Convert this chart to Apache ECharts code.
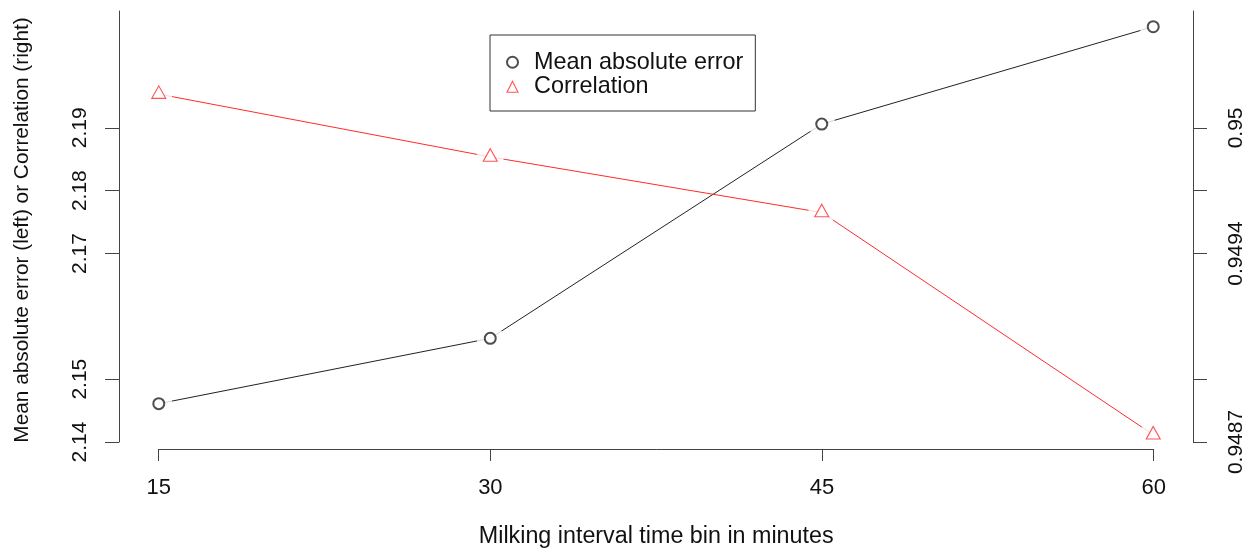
<!DOCTYPE html>
<html>
<head>
<meta charset="utf-8">
<script src="https://cdn.jsdelivr.net/npm/echarts@6/dist/echarts.min.js"></script>
<style>
  html, body { margin: 0; padding: 0; background: #fff; }
  #chart { width: 1255px; height: 553px; }
</style>
</head>
<body>
<div id="chart"></div>
<script>
// Milking interval bins (minutes)
const intervals = [15, 30, 45, 60];
// Mean absolute error per bin (left axis)
const maeValues = [2.1461, 2.1565, 2.1906, 2.2061];
// Correlation per bin (right axis)
const corrValues = [0.95010, 0.94984, 0.94961, 0.94869];

// Axis ticks
const xTicks = [15, 30, 45, 60];
const leftTicks = [2.14, 2.15, 2.17, 2.18, 2.19];
const rightTicks = [0.94866, 0.94892, 0.94944, 0.94970, 0.94996];
const rightLabelTicks = [0.94866, 0.94944, 0.94996];

// Axis ranges
const xRange = [13.2, 61.8];
const leftRange = [2.14, 2.2086];
const rightRange = [0.94866, 0.950444];

const FONT = '"Liberation Sans", Arial, Helvetica, sans-serif';
const INK = '#111';
const AXIS = '#444';
const DARK = '#222';
const RED = '#ff2b2b';

const maePts = intervals.map((x, i) => [x, maeValues[i]]);
const corrPts = intervals.map((x, i) => [x, corrValues[i]]);

function fmtRight(v) {
  return String(parseFloat(v.toFixed(4)));
}

const chart = echarts.init(document.getElementById('chart'), null, { renderer: 'canvas' });

chart.setOption({
  animation: false,
  backgroundColor: '#fff',
  textStyle: { fontFamily: FONT, color: INK },
  grid: [
    { left: 119, right: 62, top: 11, bottom: 111 },
    { left: 158.7, right: 101.3, top: 448, height: 1 }
  ],
  xAxis: [
    { type: 'value', gridIndex: 0, min: xRange[0], max: xRange[1], show: false },
    {
      type: 'value', gridIndex: 1, min: 15, max: 60, interval: 15,
      axisLine: { show: true, lineStyle: { color: AXIS, width: 1 } },
      axisTick: { show: true, inside: false, length: 12, lineStyle: { color: AXIS, width: 1 },
                  customValues: xTicks },
      axisLabel: { show: true, fontSize: 22, color: INK, margin: 28, fontFamily: FONT,
                   customValues: xTicks },
      splitLine: { show: false },
      name: 'Milking interval time bin in minutes',
      nameLocation: 'middle', nameGap: 76,
      nameTextStyle: { fontSize: 23.3, color: INK, fontFamily: FONT }
    }
  ],
  yAxis: [
    {
      type: 'value', gridIndex: 0, position: 'left',
      min: leftRange[0], max: leftRange[1],
      axisLine: { show: true, lineStyle: { color: AXIS, width: 1 } },
      axisTick: { show: true, inside: false, length: 14, lineStyle: { color: AXIS, width: 1 },
                  customValues: leftTicks },
      axisLabel: { show: true, rotate: 90, fontSize: 21, color: INK, margin: 28, fontFamily: FONT,
                   customValues: leftTicks, formatter: v => v.toFixed(2) },
      splitLine: { show: false },
      name: 'Mean absolute error (left) or Correlation (right)',
      nameLocation: 'middle', nameGap: 86, nameRotate: 90,
      nameTextStyle: { fontSize: 20.8, color: INK, fontFamily: FONT, padding: [0, 7, 0, 0] }
    },
    {
      type: 'value', gridIndex: 0, position: 'right',
      min: rightRange[0], max: rightRange[1],
      axisLine: { show: true, lineStyle: { color: AXIS, width: 1 } },
      axisTick: { show: true, inside: false, length: 14, lineStyle: { color: AXIS, width: 1 },
                  customValues: rightTicks },
      axisLabel: { show: true, rotate: 90, fontSize: 21, color: INK, margin: 33, fontFamily: FONT,
                   customValues: rightLabelTicks, formatter: fmtRight },
      splitLine: { show: false }
    },
    // companion axis for the separate x-axis strip
    { type: 'value', gridIndex: 1, min: 0, max: 1, show: false }
  ],
  legend: {
    orient: 'vertical',
    left: 490, top: 35,
    padding: [15, 12, 12, 16],
    borderColor: '#333', borderWidth: 1,
    backgroundColor: '#fff',
    itemWidth: 11, itemHeight: 11, itemGap: 0,
    textStyle: { fontSize: 23.4, color: INK, fontFamily: FONT, lineHeight: 24.5, padding: [0, 0, 0, 11] },
    selectedMode: false,
    data: [
      { name: 'Mean absolute error', icon: 'emptyCircle',
        itemStyle: { color: DARK, borderColor: DARK, borderWidth: 1 } },
      { name: 'Correlation', icon: 'triangle',
        itemStyle: { color: '#fff', borderColor: RED, borderWidth: 1.1 } }
    ]
  },
  series: [
    // connecting lines
    { type: 'line', name: 'mae-line', xAxisIndex: 0, yAxisIndex: 0, data: maePts,
      symbol: 'none', z: 2, silent: true,
      lineStyle: { color: DARK, width: 1 } },
    { type: 'line', name: 'corr-line', xAxisIndex: 0, yAxisIndex: 1, data: corrPts,
      symbol: 'none', z: 2, silent: true,
      lineStyle: { color: RED, width: 1 } },
    // white gaps around each point (type "b" style)
    { type: 'scatter', name: 'mae-gap', xAxisIndex: 0, yAxisIndex: 0, data: maePts,
      symbol: 'circle', symbolSize: 27, z: 3, silent: true,
      itemStyle: { color: '#fff' } },
    { type: 'scatter', name: 'corr-gap', xAxisIndex: 0, yAxisIndex: 1, data: corrPts,
      symbol: 'circle', symbolSize: 27, z: 3, silent: true,
      itemStyle: { color: '#fff' } },
    // point markers
    { type: 'scatter', name: 'Mean absolute error', xAxisIndex: 0, yAxisIndex: 0, data: maePts,
      symbol: 'emptyCircle', symbolSize: 11, z: 4,
      itemStyle: { color: DARK, borderColor: DARK, borderWidth: 1 } },
    { type: 'scatter', name: 'Correlation', xAxisIndex: 0, yAxisIndex: 1, data: corrPts,
      symbol: 'triangle', symbolSize: [14, 12.5], symbolOffset: [0, -2], z: 4,
      itemStyle: { color: '#fff', borderColor: RED, borderWidth: 1.1 } }
  ]
});
</script>
</body>
</html>
